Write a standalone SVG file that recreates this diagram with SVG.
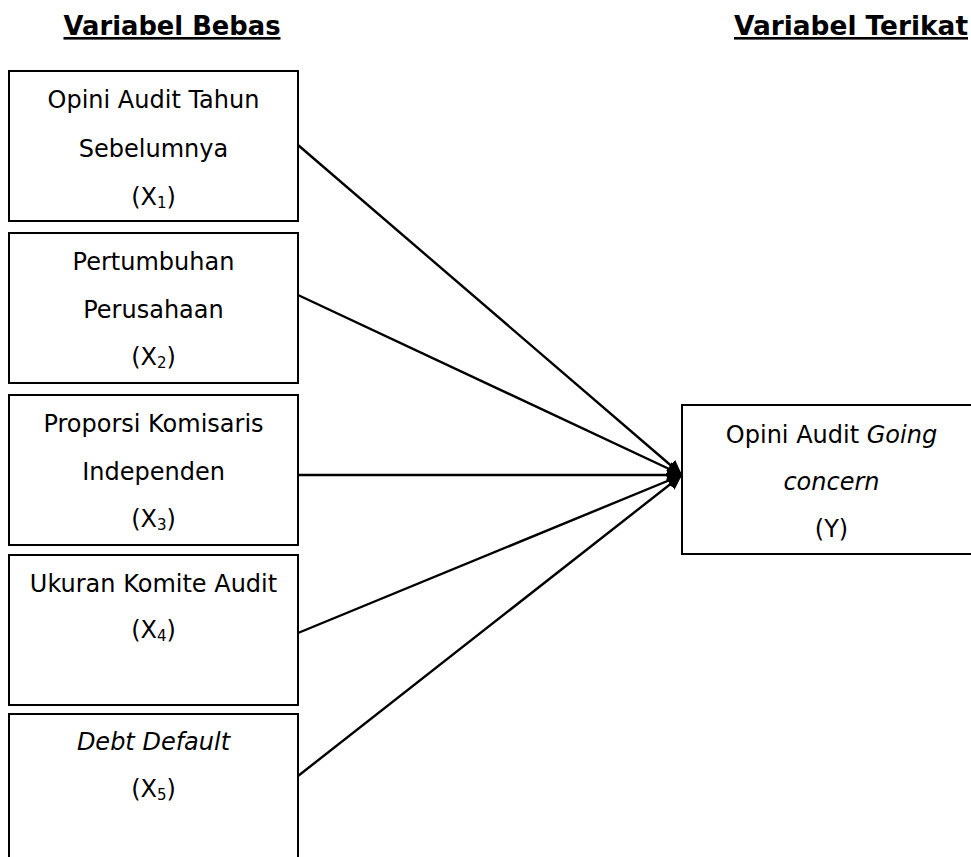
<svg xmlns="http://www.w3.org/2000/svg" width="971" height="857" viewBox="0 0 971 857">
<style>
.box{fill:#fff;stroke:#000;stroke-width:2}
.t{font-family:"DejaVu Sans","Verdana",sans-serif;font-size:24px;fill:#000;text-anchor:middle}
.h{font-family:"DejaVu Sans","Verdana",sans-serif;font-size:26px;font-weight:bold;fill:#000;text-anchor:middle;text-decoration:underline}
.i{font-style:italic}
.sub{font-size:15px}
.c{stroke:#000;stroke-width:2.4;fill:none;marker-end:url(#ah)}
</style>
<defs>
<marker id="ah" markerUnits="userSpaceOnUse" markerWidth="16" markerHeight="16" refX="15" refY="7" orient="auto">
<path d="M0,0 L15,7 L0,14 z" fill="#000"/>
</marker>
</defs>
<rect width="971" height="857" fill="#fff"/>
<g id="header-bebas"><text class="h" x="172" y="35" textLength="217" lengthAdjust="spacingAndGlyphs">Variabel Bebas</text></g>
<g id="header-terikat"><text class="h" x="851" y="35" textLength="234" lengthAdjust="spacingAndGlyphs">Variabel Terikat</text></g>
<g id="connectors">
<line class="c" x1="298" y1="145" x2="682" y2="475"/>
<line class="c" x1="298" y1="295" x2="682" y2="475"/>
<line class="c" x1="298" y1="475" x2="682" y2="475"/>
<line class="c" x1="298" y1="633" x2="682" y2="475"/>
<line class="c" x1="298" y1="776" x2="682" y2="475"/>
</g>
<g id="x1">
<rect class="box" x="9" y="71" width="289" height="150"/>
<text class="t" x="153.5" y="108">Opini Audit Tahun</text>
<text class="t" x="153.5" y="157">Sebelumnya</text>
<text class="t" x="153.5" y="205">(X<tspan class="sub" dy="3">1</tspan><tspan dy="-3">)</tspan></text>
</g>
<g id="x2">
<rect class="box" x="9" y="233" width="289" height="150"/>
<text class="t" x="153.5" y="270">Pertumbuhan</text>
<text class="t" x="153.5" y="318">Perusahaan</text>
<text class="t" x="153.5" y="365">(X<tspan class="sub" dy="3">2</tspan><tspan dy="-3">)</tspan></text>
</g>
<g id="x3">
<rect class="box" x="9" y="395" width="289" height="150"/>
<text class="t" x="153.5" y="432">Proporsi Komisaris</text>
<text class="t" x="153.5" y="480">Independen</text>
<text class="t" x="153.5" y="527">(X<tspan class="sub" dy="3">3</tspan><tspan dy="-3">)</tspan></text>
</g>
<g id="x4">
<rect class="box" x="9" y="555" width="289" height="150"/>
<text class="t" x="153.5" y="592">Ukuran Komite Audit</text>
<text class="t" x="153.5" y="638">(X<tspan class="sub" dy="3">4</tspan><tspan dy="-3">)</tspan></text>
</g>
<g id="x5">
<rect class="box" x="9" y="714" width="289" height="160"/>
<text class="t i" x="153.5" y="750">Debt Default</text>
<text class="t" x="153.5" y="797">(X<tspan class="sub" dy="3">5</tspan><tspan dy="-3">)</tspan></text>
</g>
<g id="y">
<rect class="box" x="682" y="405" width="310" height="149"/>
<text class="t" x="831.5" y="443">Opini Audit <tspan class="i">Going</tspan></text>
<text class="t i" x="831.5" y="490">concern</text>
<text class="t" x="831.5" y="537">(Y)</text>
</g>
</svg>
